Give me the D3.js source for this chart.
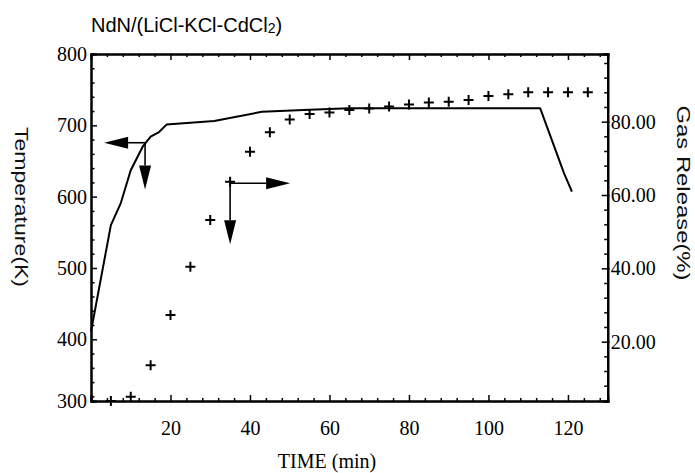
<!DOCTYPE html>
<html>
<head>
<meta charset="utf-8">
<script src="https://cdn.jsdelivr.net/npm/d3@7"></script>
<style>
  body { margin: 0; background: #fff; }
  .serif text { font-family: "Liberation Serif", "Times New Roman", serif; font-size: 20px; fill: #000; }
</style>
</head>
<body>
<div id="chart-area"></div>
<script>

var width = 695,
    height = 473;

// temperature curve (min, K)
var tempTime = [0, 5, 7.5, 10, 13, 15, 17, 19, 31, 43, 55, 65, 113, 119, 121];
var tempK    = [411, 560, 591, 637, 670, 684, 690, 701, 706, 719, 722, 724, 724, 633, 607];

// gas release points (min, %)
var gasTime = [5, 10, 15, 20, 25, 30, 35, 40, 45, 50, 55, 60, 65, 70, 75, 80, 85, 90, 95, 100, 105, 110, 115, 120, 125];
var gasPct  = [3.8, 5.0, 13.6, 27.3, 40.4, 53.2, 63.6, 71.8, 77.1, 80.6, 82.1, 82.5, 83.2, 83.6, 84.1, 84.7, 85.2, 85.4, 85.9, 87.0, 87.5, 88.0, 88.0, 88.0, 88.0];

var timeTicks = [20, 40, 60, 80, 100, 120];
var tempTicks = [300, 400, 500, 600, 700, 800];
var gasTicks  = [20, 40, 60, 80];

var svg = d3.select("#chart-area").append("svg")
    .attr("width", width)
    .attr("height", height);

var pLeft = 91, pRight = 607.7, pTop = 54, pBottom = 401;

var x = d3.scaleLinear().domain([0, 130]).range([pLeft, pRight]);
// bottom of the frame sits a little above 300 K in the original; 300 label is put at the corner
var yT = d3.scaleLinear().domain([313.5, 800]).range([pBottom, pTop]).clamp(true);
var yG = d3.scaleLinear().domain([3.82, 98.45]).range([pBottom, pTop]);

// minor tick lists
var timeMinor = d3.range(4, 130, 4).filter(d => d % 20 != 0);
var tempMinor = d3.range(320, 800, 20).filter(d => d % 100 != 0);
var gasMinor = d3.range(8, 98, 4).filter(d => d % 20 != 0);

function styleAxis(g) {
  g.select(".domain").attr("stroke-width", 2);
  g.selectAll(".tick line").attr("stroke-width", 1.5);
}

// bottom
svg.append("g").attr("class", "serif")
    .attr("transform", "translate(0," + pBottom + ")")
    .call(d3.axisBottom(x).tickValues(timeTicks).tickSize(-6).tickPadding(20))
    .call(styleAxis)
    .selectAll("text").attr("font-family", null).attr("font-size", null);
svg.append("g")
    .attr("transform", "translate(0," + pBottom + ")")
    .call(d3.axisBottom(x).tickValues(timeMinor).tickSize(-3).tickFormat(""))
    .call(styleAxis);

// top
svg.append("g")
    .attr("transform", "translate(0," + pTop + ")")
    .call(d3.axisTop(x).tickValues(timeTicks).tickSize(-6).tickFormat(""))
    .call(styleAxis);
svg.append("g")
    .attr("transform", "translate(0," + pTop + ")")
    .call(d3.axisTop(x).tickValues(timeMinor).tickSize(-3).tickFormat(""))
    .call(styleAxis);

// left
svg.append("g").attr("class", "serif")
    .attr("transform", "translate(" + pLeft + ",0)")
    .call(d3.axisLeft(yT).tickValues(tempTicks).tickSize(-6).tickPadding(4))
    .call(styleAxis)
    .selectAll("text").attr("font-family", null).attr("font-size", null);
svg.append("g")
    .attr("transform", "translate(" + pLeft + ",0)")
    .call(d3.axisLeft(yT).tickValues(tempMinor).tickSize(-3.5).tickFormat(""))
    .call(styleAxis);

// right
svg.append("g").attr("class", "serif")
    .attr("transform", "translate(" + pRight + ",0)")
    .call(d3.axisRight(yG).tickValues(gasTicks).tickSize(-6).tickPadding(3).tickFormat(d3.format(".2f")))
    .call(styleAxis)
    .selectAll("text").attr("font-family", null).attr("font-size", null);
svg.append("g")
    .attr("transform", "translate(" + pRight + ",0)")
    .call(d3.axisRight(yG).tickValues(gasTicks).tickSize(2).tickFormat(""))
    .call(styleAxis);
svg.append("g")
    .attr("transform", "translate(" + pRight + ",0)")
    .call(d3.axisRight(yG).tickValues(gasMinor).tickSize(-3.5).tickFormat(""))
    .call(styleAxis);

// temperature line
var tempData = tempTime.map((t, i) => ({t: t, v: tempK[i]}));
svg.append("path")
    .datum(tempData)
    .attr("fill", "none")
    .attr("stroke", "#000")
    .attr("stroke-width", 2)
    .attr("stroke-linejoin", "round")
    .attr("d", d3.line().x(d => x(d.t)).y(d => yT(d.v)));

// gas release crosses
var gasData = gasTime.map((t, i) => ({t: t, v: gasPct[i]}));
svg.selectAll(".cross")
    .data(gasData)
    .enter()
    .append("path")
    .attr("class", "cross")
    .attr("transform", d => "translate(" + x(d.t) + "," + yG(d.v) + ")")
    .attr("d", "M-5,0H5M0,-5V5")
    .attr("stroke", "#000")
    .attr("stroke-width", 2);

// arrows telling which axis each series belongs to
function arrow(x1, y1, x2, y2) {
  var a = Math.atan2(y2 - y1, x2 - x1), len = 24, w = 6;
  var bx = x2 - len * Math.cos(a), by = y2 - len * Math.sin(a);
  svg.append("line")
      .attr("x1", x1).attr("y1", y1).attr("x2", bx).attr("y2", by)
      .attr("stroke", "#000").attr("stroke-width", 1.6);
  svg.append("path")
      .attr("d", "M" + x2 + "," + y2 +
        "L" + (bx - w * Math.sin(a)) + "," + (by + w * Math.cos(a)) +
        "L" + (bx + w * Math.sin(a)) + "," + (by - w * Math.cos(a)) + "Z")
      .attr("fill", "#000");
}
// temperature: origin (13.6 min, 675.6 K)
arrow(x(13.6), yT(675.6), x(3.3), yT(675.6));
arrow(x(13.6), yT(675.6), x(13.6), yT(610));
// gas release: origin (35 min, 63.2 %)
arrow(x(35), yG(63.2), x(50.1), yG(63.2));
arrow(x(35), yG(63.2), x(35), yG(46.6));

// titles
var title = svg.append("text")
    .attr("x", pLeft)
    .attr("y", 32)
    .attr("font-family", "'Liberation Sans', Arial, sans-serif")
    .attr("font-size", 20);
title.append("tspan").text("NdN/(LiCl-KCl-CdCl");
title.append("tspan").attr("font-size", 14).attr("dy", 1).text("2");
title.append("tspan").attr("dy", -1).text(")");

svg.append("text")
    .attr("x", 327)
    .attr("y", 468)
    .attr("text-anchor", "middle")
    .attr("font-family", "'Liberation Serif', 'Times New Roman', serif")
    .attr("font-size", 20)
    .text("TIME (min)");

svg.append("text")
    .attr("transform", "translate(15,207) rotate(90)")
    .attr("text-anchor", "middle")
    .attr("font-family", "'Liberation Sans', Arial, sans-serif")
    .attr("font-size", 18)
    .attr("fill", "#111")
    .attr("textLength", 160)
    .attr("lengthAdjust", "spacingAndGlyphs")
    .text("Temperature(K)");

svg.append("text")
    .attr("transform", "translate(677,193) rotate(90)")
    .attr("text-anchor", "middle")
    .attr("font-family", "'Liberation Sans', Arial, sans-serif")
    .attr("font-size", 18)
    .attr("fill", "#111")
    .attr("textLength", 175)
    .attr("lengthAdjust", "spacingAndGlyphs")
    .text("Gas Release(%)");

</script>
</body>
</html>
